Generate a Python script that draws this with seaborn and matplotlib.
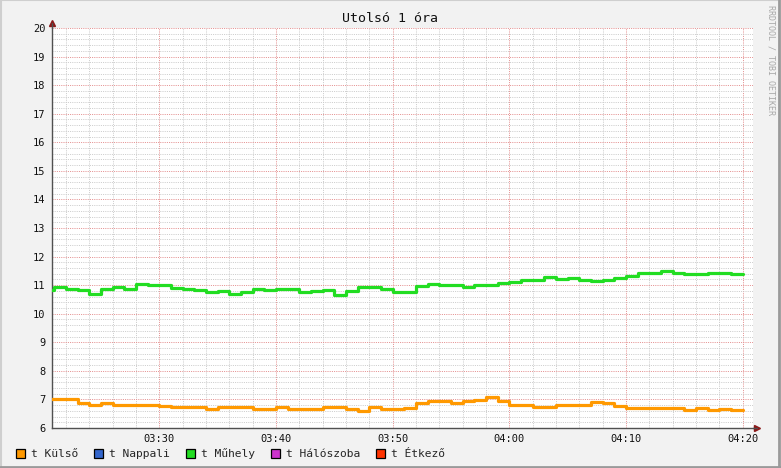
import numpy as np
import pandas as pd
import matplotlib
matplotlib.use('Agg')
import matplotlib.pyplot as plt
import seaborn as sns
from matplotlib.patches import Patch
from matplotlib.lines import Line2D
from matplotlib.ticker import MultipleLocator

# one value per minute, starting at 03:20 (minute 0), ending 04:20
kulso = [7.0, 7.0, 7.0, 6.86, 6.79, 6.86, 6.79, 6.79, 6.79, 6.79,
         6.76, 6.72, 6.72, 6.72, 6.68, 6.72, 6.72, 6.72, 6.68, 6.68,
         6.72, 6.68, 6.68, 6.68, 6.72, 6.72, 6.68, 6.61, 6.72, 6.68,
         6.68, 6.70, 6.86, 6.94, 6.94, 6.86, 6.94, 6.97, 7.10, 6.94,
         6.79, 6.79, 6.75, 6.72, 6.79, 6.79, 6.79, 6.92, 6.86, 6.77,
         6.69, 6.69, 6.69, 6.69, 6.69, 6.62, 6.69, 6.62, 6.65, 6.62]
muhely = [10.84, 10.93, 10.86, 10.83, 10.70, 10.86, 10.93, 10.86, 11.03, 11.0,
          11.0, 10.91, 10.86, 10.84, 10.77, 10.80, 10.70, 10.77, 10.86, 10.84,
          10.87, 10.87, 10.77, 10.80, 10.84, 10.66, 10.80, 10.94, 10.94, 10.87,
          10.77, 10.77, 10.96, 11.03, 11.0, 11.0, 10.93, 11.0, 11.0, 11.07,
          11.10, 11.17, 11.17, 11.30, 11.21, 11.25, 11.18, 11.14, 11.18, 11.25,
          11.32, 11.42, 11.42, 11.48, 11.42, 11.39, 11.39, 11.42, 11.42, 11.39]

series_names = ['t Külső', 't Nappali', 't Műhely', 't Hálószoba', 't Étkező']
series_colors = ['#FF9900', '#3366CC', '#22DD22', '#CC33CC', '#FF3300']
tick_minutes = [10, 20, 30, 40, 50, 60]
tick_labels = ['03:30', '03:40', '03:50', '04:00', '04:10', '04:20']

minutes = np.arange(len(kulso) + 1)
df = pd.concat([
    pd.DataFrame({'perc': minutes, 'temp': kulso + kulso[-1:], 'sensor': 't Külső'}),
    pd.DataFrame({'perc': minutes, 'temp': muhely + muhely[-1:], 'sensor': 't Műhely'}),
])

sns.set_style('white')
plt.rcParams['font.family'] = ['DejaVu Sans Mono', 'DejaVu Sans']

fig = plt.figure(figsize=(7.81, 4.68), dpi=100, facecolor='#F2F2F2')
ax = fig.add_axes([51.5 / 781, 40 / 468, 701 / 781, 400 / 468])
ax.set_facecolor('white')

sns.lineplot(data=df, x='perc', y='temp', hue='sensor',
             palette={'t Külső': '#FF9900', 't Műhely': '#22DD22'},
             drawstyle='steps-post', linewidth=2.3, legend=False, ax=ax, zorder=3)

ax.set_xlim(0.75, 60.83)
ax.set_ylim(6, 20)
ax.xaxis.set_minor_locator(MultipleLocator(2))
ax.yaxis.set_major_locator(MultipleLocator(1))
ax.yaxis.set_minor_locator(MultipleLocator(0.2))
ax.set_xticks(tick_minutes)
ax.set_xticklabels(tick_labels)

# dotted grid, gray minor and reddish major
ax.grid(which='minor', color='#CCCCCC', linestyle=(0, (1, 1.2)), linewidth=0.72, zorder=0)
ax.grid(which='major', color='#E49090', linestyle=(0, (1, 1.2)), linewidth=0.72, zorder=1)
ax.set_axisbelow(True)

for s in ['top', 'right']:
    ax.spines[s].set_visible(False)
for s in ['left', 'bottom']:
    ax.spines[s].set_color('#505050')
    ax.spines[s].set_linewidth(1.0)

ax.tick_params(which='major', direction='inout', length=5, width=0.8, color='#505050',
               labelsize=7.5, labelcolor='#111111', pad=2)
ax.tick_params(which='minor', direction='inout', length=3, width=0.6, color='#707070')
ax.set_xlabel('')
ax.set_ylabel('')

# axis arrows
ax.plot(0, 1.012, marker='^', ms=4.5, color='#8B1A1A', transform=ax.transAxes, clip_on=False)
ax.plot(1.006, 0, marker='>', ms=4.5, color='#8B1A1A', transform=ax.transAxes, clip_on=False)
ax.plot([0, 0], [1.0, 1.012], color='#505050', lw=1, transform=ax.transAxes, clip_on=False)
ax.plot([1.0, 1.006], [0, 0], color='#505050', lw=1, transform=ax.transAxes, clip_on=False)

fig.text(0.5, 1 - 19 / 468, 'Utolsó 1 óra', ha='center', va='center', fontsize=9.5, color='#111111')
fig.text(771 / 781, 1 - 5 / 468, 'RRDTOOL / TOBI OETIKER', rotation=270, ha='center', va='top',
         fontsize=6, color='#A8A8A8')

handles = [Patch(facecolor=c, edgecolor='black', linewidth=0.9) for c in series_colors]
fig.legend(handles, series_names, loc='center left', bbox_to_anchor=(16 / 781, 14 / 468),
           ncol=5, frameon=False, fontsize=8.1, handlelength=0.8, handleheight=0.8,
           handletextpad=0.55, columnspacing=1.4, borderaxespad=0, borderpad=0)

# image border
fig.add_artist(Line2D([0, 1], [0.999, 0.999], color='#CFCFCF', lw=1.5, transform=fig.transFigure))
fig.add_artist(Line2D([0.0007, 0.0007], [0, 1], color='#CFCFCF', lw=1.5, transform=fig.transFigure))
fig.add_artist(Line2D([0.998, 0.998], [0, 1], color='#9A9A9A', lw=2, transform=fig.transFigure))
fig.add_artist(Line2D([0, 1], [0.003, 0.003], color='#9A9A9A', lw=2, transform=fig.transFigure))

fig.savefig('out.png', dpi=100, facecolor=fig.get_facecolor())
